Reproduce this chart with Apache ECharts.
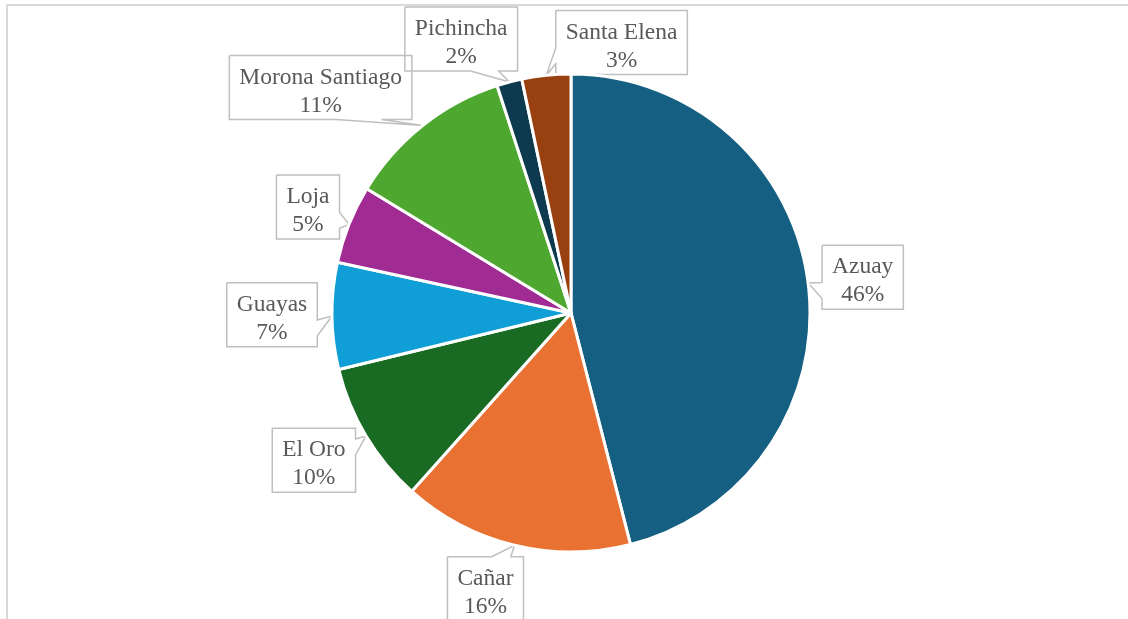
<!DOCTYPE html>
<html>
<head>
<meta charset="utf-8">
<title>Distribución por provincia</title>
<script src="https://cdn.jsdelivr.net/npm/echarts@6/dist/echarts.min.js"></script>
<style>
  html, body { margin: 0; padding: 0; background: #ffffff; }
  #chart { width: 1128px; height: 619px; }
</style>
</head>
<body>
<div id="chart"></div>
<script>
// Provinces, clockwise from twelve o'clock
const categories = ['Azuay', 'Cañar', 'El Oro', 'Guayas', 'Loja', 'Morona Santiago', 'Pichincha', 'Santa Elena'];
// Share of each province (%)
const shares = [46, 15.6, 9.6, 7.2, 5.3, 11.3, 1.7, 3.3];

// Slice colours (Office palette)
const sliceColors = ['#156082', '#e97132', '#196b24', '#0f9ed5', '#a02b93', '#4ea72e', '#0d3a4e', '#994011'];

// Callout placement: distance of the box centre beyond the rim, plus a per-label nudge
const calloutGap = 55;
const calloutNudge = [[0, 1], [-16, -10], [-5, -4], [-5, -2], [10, 3], [-68, 5], [-34, 10], [81, 22]];
// Text sits slightly below the centre of its callout box
const textDrop = 4;

const pieCenter = [571, 313];
const pieRadius = 239;

// Outline of a rectangular callout with a wedge pointing at (tx, ty)
function calloutOutline(l, t, w, h, tx, ty) {
  const r = l + w, b = t + h;
  const hc = l + w / 2, vc = t + h / 2;
  const dxPos = tx - hc, dyPos = ty - vc;
  const dq = dxPos * h / w;
  const dz = Math.abs(dyPos) - Math.abs(dq);
  const x1 = l + w * (dxPos > 0 ? 7 : 2) / 12;
  const x2 = l + w * (dxPos > 0 ? 10 : 5) / 12;
  const y1 = t + h * (dyPos > 0 ? 7 : 2) / 12;
  const y2 = t + h * (dyPos > 0 ? 10 : 5) / 12;
  const tip = [tx, ty];
  const pts = [[l, t]];
  // top edge
  if (dz > 0 && dyPos < 0) pts.push([x1, t], tip, [x2, t]);
  pts.push([r, t]);
  // right edge
  if (dz <= 0 && dxPos > 0) pts.push([r, y1], tip, [r, y2]);
  pts.push([r, b]);
  // bottom edge
  if (dz > 0 && dyPos > 0) pts.push([x2, b], tip, [x1, b]);
  pts.push([l, b]);
  // left edge
  if (dz <= 0 && dxPos < 0) pts.push([l, y2], tip, [l, y1]);
  pts.push([l, t]);
  return pts;
}

const chart = echarts.init(document.getElementById('chart'), null, { renderer: 'canvas' });

const option = {
  backgroundColor: '#ffffff',
  animation: false,
  graphic: [{
    type: 'rect',
    silent: true,
    shape: { x: 7, y: 5, width: 1200, height: 700 },
    style: { fill: 'none', stroke: '#d9d9d9', lineWidth: 2 }
  }],
  series: [{
    type: 'pie',
    center: pieCenter,
    radius: pieRadius,
    startAngle: 90,
    clockwise: true,
    avoidLabelOverlap: false,
    percentPrecision: 0,
    emphasis: { disabled: true },
    itemStyle: { borderColor: '#ffffff', borderWidth: 3 },
    label: {
      show: true,
      position: 'outside',
      formatter: '{b}\n{d}%',
      fontFamily: '"Liberation Serif", "Times New Roman", serif',
      fontSize: 23.5,
      lineHeight: 28,
      color: '#595959',
      align: 'center',
      padding: [4, 10]
    },
    labelLine: {
      show: true,
      length: 10,
      length2: 0,
      smooth: false,
      lineStyle: { color: '#bfbfbf', width: 1.5 }
    },
    labelLayout: function (params) {
      const i = params.dataIndex;
      const rect = params.labelRect;
      const pts = params.labelLinePoints;
      let tip, u;
      if (pts && pts.length >= 2) {
        tip = pts[0];
        const ddx = pts[1][0] - pts[0][0];
        const ddy = pts[1][1] - pts[0][1];
        const len = Math.hypot(ddx, ddy) || 1;
        u = [ddx / len, ddy / len];
      } else {
        const mx = rect.x + rect.width / 2 - pieCenter[0];
        const my = rect.y + rect.height / 2 - pieCenter[1];
        const len = Math.hypot(mx, my) || 1;
        u = [mx / len, my / len];
        tip = [pieCenter[0] + u[0] * pieRadius, pieCenter[1] + u[1] * pieRadius];
      }
      const nudge = calloutNudge[i] || [0, 0];
      const cx = tip[0] + u[0] * calloutGap + nudge[0];
      const cy = tip[1] + u[1] * calloutGap + nudge[1];
      const w = rect.width, h = rect.height;
      const l = cx - w / 2, t = cy - h / 2;
      return {
        x: cx,
        y: cy + textDrop,
        align: 'center',
        verticalAlign: 'middle',
        labelLinePoints: calloutOutline(l, t, w, h, tip[0], tip[1])
      };
    },
    data: categories.map(function (name, i) {
      return { name: name, value: shares[i], itemStyle: { color: sliceColors[i] } };
    })
  }]
};

chart.setOption(option);
</script>
</body>
</html>
